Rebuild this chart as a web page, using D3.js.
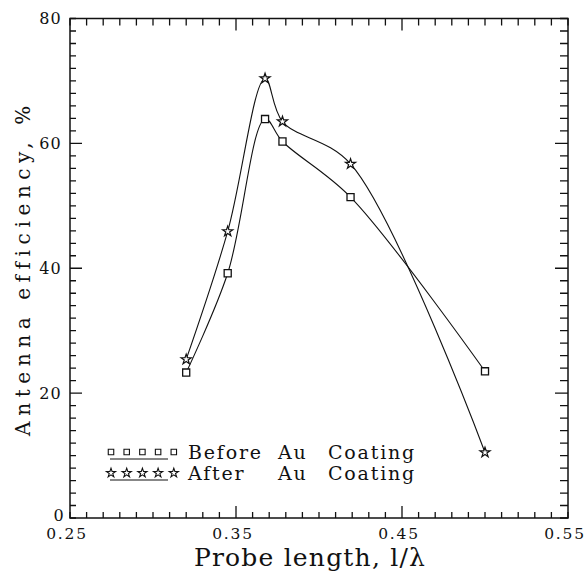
<!DOCTYPE html>
<html>
<head>
<meta charset="utf-8">
<script src="https://d3js.org/d3.v7.min.js"></script>
<style>
  body { margin: 0; background: #fff; }
  text { font-family: "DejaVu Serif", serif; fill: #111; }
</style>
</head>
<body>
<svg id="chart" width="588" height="573"></svg>
<script>
  // values
  var probeLength = [0.32, 0.345, 0.3675, 0.378, 0.419, 0.50];
  var beforeCoating = [23.3, 39.2, 63.9, 60.3, 51.4, 23.5];
  var afterCoating = [25.4, 45.9, 70.4, 63.5, 56.7, 10.5];
  var xTicks = [0.25, 0.35, 0.45, 0.55];
  var yTicks = [0, 20, 40, 60, 80];
  var seriesNames = ["Before  Au Coating", "After   Au Coating"];

  var plotLeft = 70, plotRight = 568, plotTop = 18.5, plotBottom = 518;

  var svg = d3.select("#chart");

  var x = d3.scaleLinear().domain([0.25, 0.55]).range([plotLeft, plotRight]);
  var y = d3.scaleLinear().domain([0, 80]).range([plotBottom, plotTop]);

  var xMinor = d3.range(0, 31).map(function(i) { return 0.25 + i * 0.01; });
  var yMinor = d3.range(0, 41).map(function(i) { return i * 2; });
  var xMajor = [0.35, 0.45];
  var yMajor = [20, 40, 60];

  // frame
  svg.append("rect")
    .attr("x", plotLeft).attr("y", plotTop)
    .attr("width", plotRight - plotLeft).attr("height", plotBottom - plotTop)
    .attr("fill", "none").attr("stroke", "#111").attr("stroke-width", 1.5);

  // inward ticks, one path per side built from the scales
  var tickPath = d3.path();
  function xTickMarks(vals, yPos, len) {
    vals.forEach(function(v) {
      tickPath.moveTo(x(v), yPos);
      tickPath.lineTo(x(v), yPos + len);
    });
  }
  function yTickMarks(vals, xPos, len) {
    vals.forEach(function(v) {
      tickPath.moveTo(xPos, y(v));
      tickPath.lineTo(xPos + len, y(v));
    });
  }
  xTickMarks(xMinor, plotBottom, -6);
  xTickMarks(xMajor, plotBottom, -12);
  xTickMarks(xMinor, plotTop, 7);
  xTickMarks(xMajor, plotTop, 12);
  yTickMarks(yMinor, plotLeft, 6);
  yTickMarks(yMajor, plotLeft, 12);
  yTickMarks(yMinor, plotRight, -8);
  yTickMarks(yMajor, plotRight, -13);

  svg.append("path")
    .attr("d", tickPath.toString())
    .attr("fill", "none").attr("stroke", "#111").attr("stroke-width", 1.3);

  // tick labels
  svg.selectAll(null).data(xTicks).enter().append("text")
    .attr("x", function(d) { return x(d) - 3; })
    .attr("y", 539)
    .attr("text-anchor", "middle")
    .style("font-size", "15.5px").style("letter-spacing", "1.8px")
    .text(function(d) { return d.toFixed(2); });

  svg.selectAll(null).data(yTicks).enter().append("text")
    .attr("x", function(d) { return d === 0 ? 65 : 62; })
    .attr("y", function(d) { return d === 0 ? y(d) + 3 : y(d) + 5.5; })
    .attr("text-anchor", "end")
    .style("font-size", "16px").style("letter-spacing", "1.2px")
    .text(function(d) { return d; });

  // axis titles
  svg.append("text")
    .attr("x", 310).attr("y", 566)
    .attr("text-anchor", "middle")
    .style("font-size", "25px").style("letter-spacing", "1.2px")
    .text("Probe length, l/λ");

  svg.append("text")
    .attr("transform", "translate(30,268) rotate(-90)")
    .attr("text-anchor", "middle")
    .style("font-size", "20px").style("letter-spacing", "5.6px")
    .text("Antenna efficiency, %");

  // curves
  var curveLine = d3.line()
    .x(function(d) { return x(d[0]); })
    .y(function(d) { return y(d[1]); })
    .curve(d3.curveCatmullRom.alpha(0.5));

  var beforePts = d3.zip(probeLength, beforeCoating);
  var afterPts = d3.zip(probeLength, afterCoating);

  [beforePts, afterPts].forEach(function(pts) {
    svg.append("path").datum(pts)
      .attr("d", curveLine)
      .attr("fill", "none").attr("stroke", "#111").attr("stroke-width", 1.1);
  });

  var square = d3.symbol().type(d3.symbolSquare).size(50);
  var star = d3.symbol().type(d3.symbolStar).size(32);

  svg.selectAll(null).data(beforePts).enter().append("path")
    .attr("transform", function(d) { return "translate(" + x(d[0]) + "," + y(d[1]) + ")"; })
    .attr("d", square)
    .attr("fill", "#fff").attr("stroke", "#111").attr("stroke-width", 1.3);

  svg.selectAll(null).data(afterPts).enter().append("path")
    .attr("transform", function(d) { return "translate(" + x(d[0]) + "," + y(d[1]) + ")"; })
    .attr("d", star)
    .attr("fill", "#fff").attr("stroke", "#111").attr("stroke-width", 1.2);

  // legend
  var legendRows = [
    { y: 452, sym: d3.symbol().type(d3.symbolSquare).size(30), name: seriesNames[0] },
    { y: 473, sym: d3.symbol().type(d3.symbolStar).size(26), name: seriesNames[1] }
  ];
  var wordX = [188, 278, 328];

  legendRows.forEach(function(r) {
    d3.range(5).forEach(function(i) {
      svg.append("path")
        .attr("transform", "translate(" + (111 + i * 15.7) + "," + r.y + ")")
        .attr("d", r.sym)
        .attr("fill", "#fff").attr("stroke", "#111").attr("stroke-width", 1.1);
    });
    svg.append("line")
      .attr("x1", 110).attr("x2", 168)
      .attr("y1", r.y + 7).attr("y2", r.y + 7)
      .attr("stroke", "#111").attr("stroke-width", 1.2);
    r.name.split(/\s+/).forEach(function(w, i) {
      svg.append("text")
        .attr("x", wordX[i]).attr("y", r.y + 7)
        .style("font-size", "19px").style("letter-spacing", "1.8px")
        .text(w);
    });
  });
</script>
</body>
</html>
